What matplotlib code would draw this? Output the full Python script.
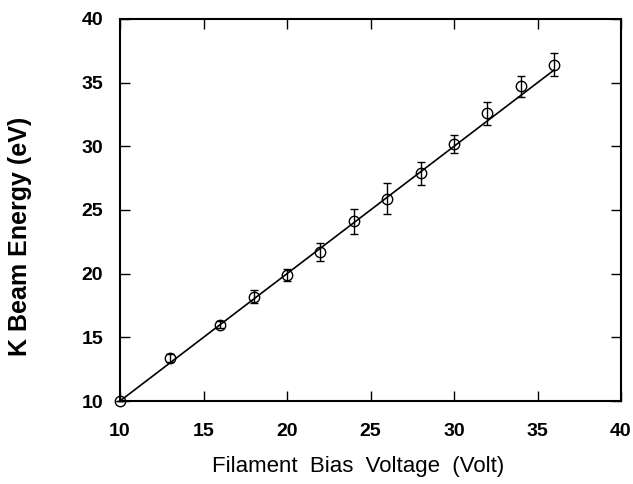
import numpy as np
import matplotlib
matplotlib.use("Agg")
import matplotlib.pyplot as plt

plt.rcParams['font.family'] = ['Liberation Sans', 'DejaVu Sans']

# Measured points
bias_voltage = [10, 13, 16, 18, 20, 22, 24, 26, 28, 30, 32, 34, 36]
beam_energy = [10.0, 13.4, 16.0, 18.2, 19.9, 21.7, 24.1, 25.9, 27.9, 30.2, 32.6, 34.7, 36.4]
energy_err = [0.0, 0.3, 0.3, 0.5, 0.5, 0.7, 1.0, 1.2, 0.9, 0.7, 0.9, 0.85, 0.9]

# Straight line through the data
fit_x = [10, 36]
fit_y = [10, 36]

ticks = [10, 15, 20, 25, 30, 35, 40]

fig = plt.figure(figsize=(6.33, 4.84), dpi=100)
ax = fig.add_axes([120 / 633, 1 - 401 / 484, 501 / 633, 382 / 484])

ax.plot(fit_x, fit_y, color='black', linewidth=1.2)
ax.errorbar(bias_voltage, beam_energy, yerr=energy_err, fmt='o', markersize=7.5,
            markerfacecolor='none', markeredgecolor='black', markeredgewidth=1.0,
            ecolor='black', elinewidth=1.0, capsize=3, capthick=1.0, clip_on=False)

ax.set_xlim(10, 40)
ax.set_ylim(10, 40)
ax.set_xticks(ticks)
ax.set_yticks(ticks)
ax.tick_params(direction='in', length=7, width=1.0, top=True, right=True,
               labelsize=14)
ax.tick_params(axis='x', pad=16)
ax.tick_params(axis='y', pad=12)
for lab in ax.get_xticklabels() + ax.get_yticklabels():
    lab.set_fontweight('bold')
for s in ax.spines.values():
    s.set_linewidth(1.5)

ax.set_xlabel('Filament  Bias  Voltage  (Volt)', fontsize=16)
ax.set_ylabel('K Beam Energy (eV)', fontsize=18, fontweight='bold')
ax.xaxis.set_label_coords(0.475, -0.143)
ax.yaxis.set_label_coords(-0.176, 0.43)

fig.savefig('out.png', dpi=100)
